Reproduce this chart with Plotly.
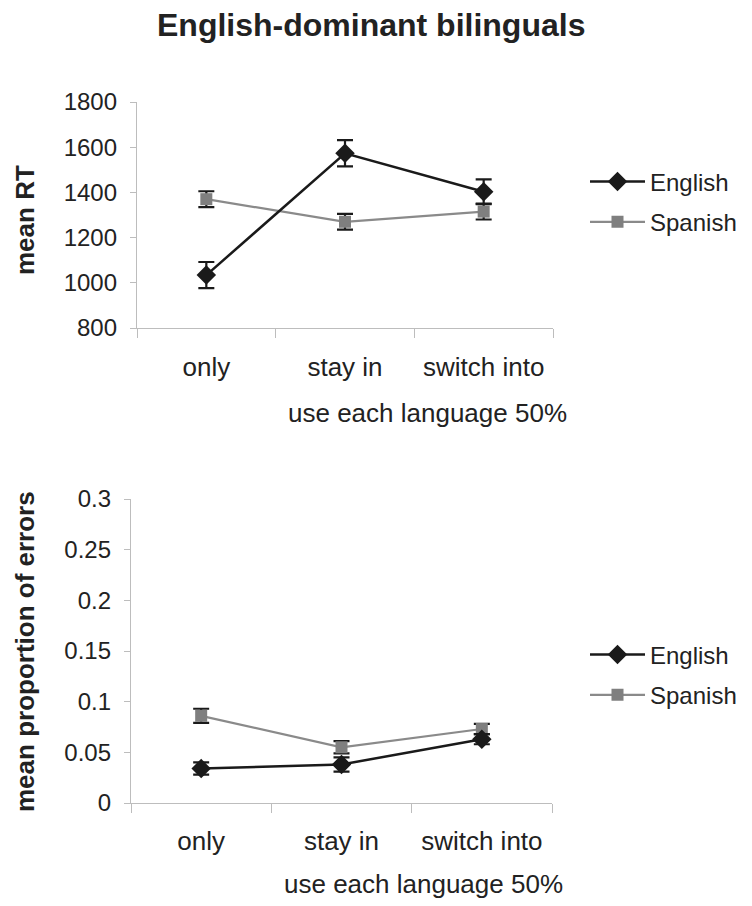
import plotly.graph_objects as go

categories = ["only", "stay in", "switch into"]

rt_english = [1034, 1573, 1403]
rt_english_err = [58, 58, 55]
rt_spanish = [1370, 1270, 1315]
rt_spanish_err = [35, 35, 35]

err_english = [0.034, 0.038, 0.063]
err_english_err = [0.006, 0.007, 0.005]
err_spanish = [0.086, 0.055, 0.073]
err_spanish_err = [0.007, 0.006, 0.005]

rt_ticks = [800, 1000, 1200, 1400, 1600, 1800]
err_ticks = [0, 0.05, 0.1, 0.15, 0.2, 0.25, 0.3]
err_ticktext = ["0", "0.05", "0.1", "0.15", "0.2", "0.25", "0.3"]

W, H = 752, 906
OFF = 8  # page body offset
FONT = "Liberation Sans, Arial, sans-serif"
BLACK = "#1a1a1a"
GRAY = "#8a8a8a"
AXIS = "#bdbdbd"
TXT = "#222222"

def px(x):
    return (x - OFF) / W

def py(y):
    return 1 - (y - OFF) / H

fig = go.Figure()

def add_pair(eng, eng_e, spa, spa_e, xa, ya, leg, tag):
    fig.add_trace(go.Scatter(
        x=categories, y=spa, name="Spanish", xaxis=xa, yaxis=ya, legend=leg,
        legendgroup=tag + "s", legendrank=2,
        mode="lines+markers",
        line=dict(color=GRAY, width=2.2),
        marker=dict(symbol="square", size=12, color="#7f7f7f"),
        error_y=dict(type="data", array=spa_e, color=BLACK, thickness=2.2, width=8),
    ))
    fig.add_trace(go.Scatter(
        x=categories, y=eng, name="English", xaxis=xa, yaxis=ya, legend=leg,
        legendgroup=tag + "e", legendrank=1,
        mode="lines+markers",
        line=dict(color=BLACK, width=2.5),
        marker=dict(symbol="diamond", size=15, color=BLACK),
        error_y=dict(type="data", array=eng_e, color=BLACK, thickness=2.2, width=8),
    ))

add_pair(rt_english, rt_english_err, rt_spanish, rt_spanish_err, "x", "y", "legend", "a")
add_pair(err_english, err_english_err, err_spanish, err_spanish_err, "x2", "y2", "legend2", "b")

xcommon = dict(
    type="category", range=[-0.5, 2.5], tickson="boundaries",
    showline=True, linecolor=AXIS, linewidth=1.3,
    ticks="outside", ticklen=9, tickcolor=AXIS, tickwidth=1.3,
    tickfont=dict(family=FONT, size=26, color=TXT),
    showgrid=False, zeroline=False, fixedrange=True, automargin=False,
)
ycommon = dict(
    showline=True, linecolor=AXIS, linewidth=1.3,
    ticks="outside", ticklen=6, tickcolor=AXIS, tickwidth=1.3,
    tickfont=dict(family=FONT, size=24, color=TXT),
    showgrid=False, zeroline=False, fixedrange=True, automargin=False,
)

def ann(text, x, y, size=24, angle=0):
    return dict(text=text, x=px(x), y=py(y), xref="paper", yref="paper",
                xanchor="center", yanchor="middle", showarrow=False, textangle=angle,
                font=dict(family=FONT, size=size, color=TXT))

legcommon = dict(xanchor="left", yanchor="middle",
                 font=dict(family=FONT, size=24, color=TXT),
                 traceorder="grouped", bgcolor="rgba(0,0,0,0)", itemwidth=55,
                 tracegroupgap=6)

fig.update_layout(
    width=W, height=H,
    margin=dict(l=0, r=0, t=0, b=0, pad=0, autoexpand=False),
    paper_bgcolor="white", plot_bgcolor="white",
    font=dict(family=FONT, color=TXT),
    xaxis=dict(domain=[px(137), px(553)], anchor="y", ticklabelstandoff=16, **xcommon),
    yaxis=dict(domain=[py(328), py(102)], anchor="x", range=[800, 1800],
               tickvals=rt_ticks, ticklabelstandoff=8, **ycommon),
    xaxis2=dict(domain=[px(131), px(552)], anchor="y2", ticklabelstandoff=15, **xcommon),
    yaxis2=dict(domain=[py(803), py(499)], anchor="x2", range=[0, 0.3],
                tickvals=err_ticks, ticktext=err_ticktext, ticklabelstandoff=8, **ycommon),
    legend=dict(x=px(585), y=py(202), **legcommon),
    legend2=dict(x=px(585), y=py(675), **legcommon),
    annotations=[
        ann("<b>English-dominant bilinguals</b>", 371, 25, size=32),
        ann("<b>mean RT</b>", 25, 220, size=26, angle=-90),
        ann("<b>mean proportion of errors</b>", 25, 652, size=26, angle=-90),
        ann("use each language 50%", 428, 413, size=26),
        ann("use each language 50%", 423, 884, size=26),
    ],
)

fig.write_html("out.html")
